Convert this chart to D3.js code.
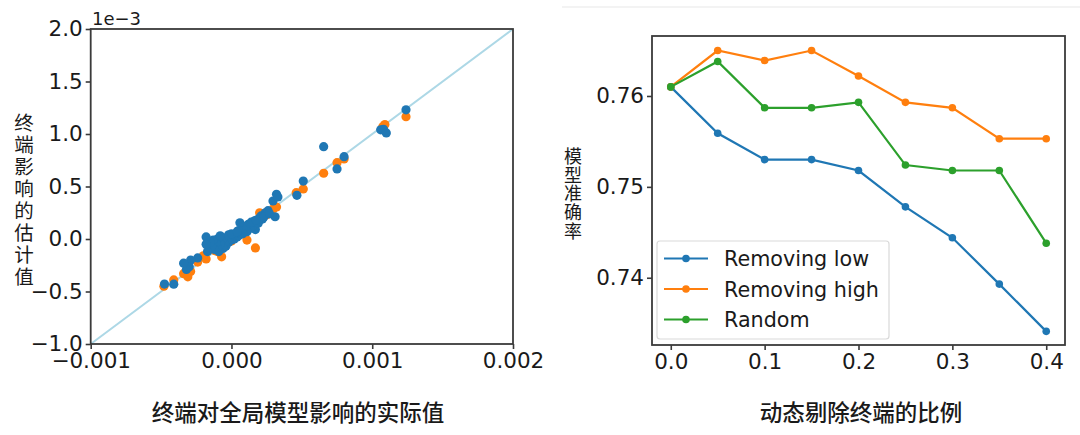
<!DOCTYPE html>
<html>
<head>
<meta charset="utf-8">
<script src="https://cdn.jsdelivr.net/npm/d3@7"></script>
<style>
  body { margin: 0; background: #fff; }
  .tick text { font-family: "DejaVu Sans", sans-serif; font-size: 21.5px; fill: #1a1a1a; }
  .cjk { font-family: "Noto Sans CJK SC", sans-serif; fill: #1a1a1a; }
</style>
</head>
<body>
<div id="chart"></div>
<script>
// left panel: estimated vs actual influence (units of 1e-3)
var scatterXTicks = [-1, 0, 1, 2];
var scatterXLabels = ["\u22120.001", "0.000", "0.001", "0.002"];
var scatterYTicks = [-1.0, -0.5, 0.0, 0.5, 1.0, 1.5, 2.0];
var orangeDots = [
  [1.24, 1.165], [1.09, 1.09], [1.075, 1.07], [0.75, 0.727], [0.80, 0.762],
  [0.655, 0.626], [0.51, 0.476], [0.46, 0.441], [0.32, 0.305], [0.30, 0.29],
  [0.26, 0.26], [0.20, 0.25], [0.17, -0.085], [0.11, -0.01], [-0.07, -0.17],
  [-0.12, -0.11], [-0.18, -0.19], [-0.24, -0.22], [-0.34, -0.33], [-0.31, -0.36],
  [-0.29, -0.31], [-0.41, -0.39], [-0.48, -0.45], [-0.05, -0.06], [0.0, -0.02],
  [0.05, 0.03], [0.10, 0.08], [0.15, 0.14], [0.22, 0.22], [-0.10, -0.12],
  [0.25, 0.23], [-0.20, -0.16]
];
var blueDots = [
  [1.24, 1.23], [1.06, 1.04], [1.08, 1.045], [1.10, 1.01], [0.655, 0.879],
  [0.80, 0.784], [0.75, 0.667], [0.51, 0.552], [0.465, 0.416], [0.32, 0.426],
  [0.295, 0.362], [0.31, 0.212], [0.33, 0.40], [0.24, 0.25], [0.26, 0.27],
  [0.22, 0.19], [0.20, 0.20], [0.18, 0.18], [0.16, 0.17], [0.17, 0.09],
  [0.15, 0.12], [0.13, 0.10], [0.12, 0.14], [0.11, 0.07], [0.10, 0.12],
  [0.08, 0.10], [0.08, 0.05], [0.06, 0.155], [0.06, 0.04], [0.05, 0.08],
  [0.04, 0.02], [0.03, 0.05], [0.02, 0.00], [0.01, 0.03], [0.00, -0.01],
  [-0.01, 0.02], [-0.02, -0.03], [-0.03, 0.00], [-0.04, -0.07], [-0.05, -0.04],
  [-0.06, 0.01], [-0.06, -0.09], [-0.07, -0.02], [-0.08, -0.05], [-0.09, -0.12],
  [-0.10, 0.00], [-0.10, -0.08], [-0.11, -0.04], [-0.12, -0.10], [-0.13, -0.01],
  [-0.14, -0.07], [-0.15, -0.03], [-0.17, -0.12], [-0.18, 0.02], [-0.18, -0.05],
  [0.14, 0.16], [0.19, 0.15], [0.21, 0.22], [0.23, 0.21], [0.27, 0.24],
  [-0.02, 0.04], [0.00, 0.05], [-0.08, 0.03], [0.176, 0.181], [0.04, 0.07],
  [-0.24, -0.18], [-0.29, -0.20], [-0.30, -0.265], [-0.32, -0.29], [-0.34, -0.23],
  [-0.41, -0.43], [-0.476, -0.429]
];

// right panel: model accuracy vs removal ratio
var ratios = [0.0, 0.05, 0.1, 0.15, 0.2, 0.25, 0.3, 0.35, 0.4];
var removingLow = [0.7610, 0.7559, 0.7530, 0.7530, 0.7518, 0.7478, 0.7444, 0.7393, 0.7341];
var removingHigh = [0.7610, 0.7650, 0.7639, 0.7650, 0.7622, 0.7593, 0.7587, 0.7553, 0.7553];
var randomRemove = [0.7610, 0.7638, 0.7587, 0.7587, 0.7593, 0.7524, 0.7518, 0.7518, 0.7438];
var seriesNames = ["Removing low", "Removing high", "Random"];
var seriesColours = ["#1f77b4", "#ff7f0e", "#2ca02c"];
var ratioTicks = [0.0, 0.1, 0.2, 0.3, 0.4];
var accTicks = [0.74, 0.75, 0.76];

var width = 1080, height = 435;
var svg = d3.select("#chart").append("svg")
    .attr("width", width)
    .attr("height", height);

// faint separator at the top of the right half
svg.append("line")
    .attr("x1", 562).attr("x2", 1080).attr("y1", 7).attr("y2", 7)
    .style("stroke", "#efefef").style("stroke-width", 1.5);

function frame(g, x0, x1, y0, y1) {
    g.append("rect")
        .attr("x", x0).attr("y", y0)
        .attr("width", x1 - x0).attr("height", y1 - y0)
        .style("fill", "none")
        .style("stroke", "#3a3a3a")
        .style("stroke-width", 1.8);
}

function styleAxis(a) {
    a.select(".domain").remove();
    a.selectAll(".tick line").style("stroke", "#3a3a3a").style("stroke-width", 1.6);
}

// stacked CJK label, one text element written top to bottom
function verticalLabel(g, chars, x, yTop, step, size) {
    g.append("text")
        .attr("class", "cjk")
        .attr("x", x)
        .attr("y", yTop)
        .style("writing-mode", "vertical-rl")
        .style("text-orientation", "upright")
        .style("letter-spacing", (step - size) + "px")
        .style("font-size", size + "px")
        .text(chars);
}

// ---------- left scatter ----------
var sx = d3.scaleLinear().domain([-1, 2]).range([90.7, 513]);
var sy = d3.scaleLinear().domain([-1, 2]).range([344, 29]);
var left = svg.append("g");

left.append("line")
    .attr("x1", sx(-1)).attr("y1", sy(-1))
    .attr("x2", sx(2)).attr("y2", sy(2))
    .style("stroke", "#add8e6").style("stroke-width", 2);

left.selectAll("circle.orange")
    .data(orangeDots).enter()
    .append("circle")
    .attr("class", "orange")
    .attr("cx", (d) => sx(d[0]))
    .attr("cy", (d) => sy(d[1]))
    .attr("r", 4.6)
    .style("fill", "#ff7f0e");

left.selectAll("circle.blue")
    .data(blueDots).enter()
    .append("circle")
    .attr("class", "blue")
    .attr("cx", (d) => sx(d[0]))
    .attr("cy", (d) => sy(d[1]))
    .attr("r", 4.6)
    .style("fill", "#1f77b4");

frame(left, 90.7, 513, 29, 344);

var lx = left.append("g")
    .attr("transform", "translate(0,344)")
    .call(d3.axisBottom(sx).tickValues(scatterXTicks)
        .tickFormat((d, i) => scatterXLabels[i]).tickSize(5).tickPadding(4));
styleAxis(lx);

var ly = left.append("g")
    .attr("transform", "translate(90.7,0)")
    .call(d3.axisLeft(sy).tickValues(scatterYTicks)
        .tickFormat((d) => d3.format(".1f")(d).replace("-", "\u2212")).tickSize(5).tickPadding(3));
styleAxis(ly);

left.append("text")
    .text("1e\u22123")
    .attr("x", 92)
    .attr("y", 25)
    .style("font-family", "DejaVu Sans, sans-serif")
    .style("font-size", "18px")
    .style("fill", "#1a1a1a");

verticalLabel(left, "终端影响的估计值", 24, 113, 22, 19.5);

left.append("text")
    .attr("class", "cjk")
    .attr("text-anchor", "middle")
    .attr("x", 298)
    .attr("y", 421)
    .style("font-size", "22.5px")
    .style("font-weight", "500")
    .text("终端对全局模型影响的实际值");

// ---------- right line chart ----------
var rx = d3.scaleLinear().domain([-0.02, 0.42]).range([652, 1065]);
var ry = d3.scaleLinear().domain([0.7326, 0.7666]).range([345, 36]);
var right = svg.append("g");

var allSeries = [removingLow, removingHigh, randomRemove];
var line = d3.line()
    .x((d, i) => rx(ratios[i]))
    .y((d) => ry(d));

allSeries.forEach((s, k) => {
    right.append("path")
        .datum(s)
        .attr("d", line)
        .style("fill", "none")
        .style("stroke", seriesColours[k])
        .style("stroke-width", 2.2);
    right.selectAll("circle.s" + k)
        .data(s).enter()
        .append("circle")
        .attr("class", "s" + k)
        .attr("cx", (d, i) => rx(ratios[i]))
        .attr("cy", (d) => ry(d))
        .attr("r", 3.8)
        .style("fill", seriesColours[k]);
});

// legend
var legend = right.append("g");
legend.append("rect")
    .attr("x", 657).attr("y", 241)
    .attr("width", 232).attr("height", 98)
    .attr("rx", 3)
    .style("fill", "#fff").style("fill-opacity", 0.8)
    .style("stroke", "#d9d9d9").style("stroke-width", 1.2);
seriesNames.forEach((name, k) => {
    var y = 258.5 + k * 30.5;
    legend.append("line")
        .attr("x1", 664).attr("x2", 708).attr("y1", y).attr("y2", y)
        .style("stroke", seriesColours[k]).style("stroke-width", 2.2);
    legend.append("circle")
        .attr("cx", 686).attr("cy", y).attr("r", 3.8)
        .style("fill", seriesColours[k]);
    legend.append("text")
        .text(name)
        .attr("x", 724)
        .attr("y", y + 7.5)
        .style("font-family", "DejaVu Sans, sans-serif")
        .style("font-size", "20.7px")
        .style("fill", "#1a1a1a");
});

frame(right, 652, 1065, 36, 345);

var bx = right.append("g")
    .attr("transform", "translate(0,345)")
    .call(d3.axisBottom(rx).tickValues(ratioTicks)
        .tickFormat(d3.format(".1f")).tickSize(5).tickPadding(4));
styleAxis(bx);

var by = right.append("g")
    .attr("transform", "translate(652,0)")
    .call(d3.axisLeft(ry).tickValues(accTicks)
        .tickFormat(d3.format(".2f")).tickSize(5).tickPadding(3));
styleAxis(by);

verticalLabel(right, "模型准确率", 573, 147, 18.7, 18);

right.append("text")
    .attr("class", "cjk")
    .attr("text-anchor", "middle")
    .attr("x", 861)
    .attr("y", 421)
    .style("font-size", "22.5px")
    .style("font-weight", "500")
    .text("动态剔除终端的比例");
</script>
</body>
</html>
